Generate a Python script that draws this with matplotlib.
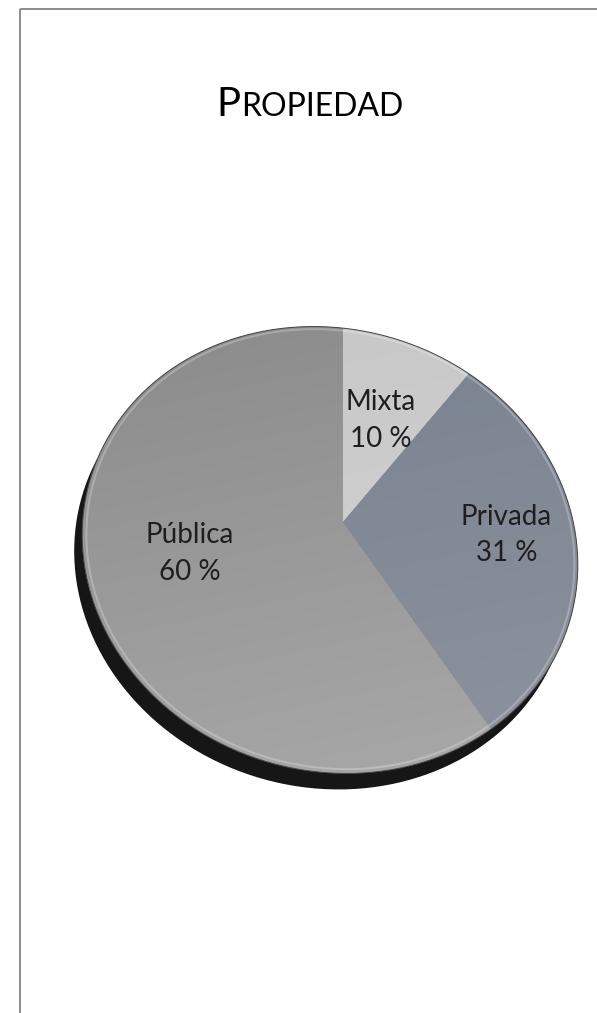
import numpy as np
import matplotlib
matplotlib.use("Agg")
import matplotlib.pyplot as plt
from matplotlib import transforms as mtransforms
from matplotlib.path import Path
from matplotlib.patches import Circle
from matplotlib.colors import to_rgb

# ownership split
categories = ["Mixta", "Privada", "Pública"]
shares = [10, 31, 60]

# flat fill + (top, bottom) shading per slice
face_colors = ["#cbcbcb", "#838a96", "#9c9c9c"]
shades = [("#c6c6c6", "#d6d6d6"), ("#778090", "#8e949e"), ("#8a8a8a", "#aaaaaa")]
label_r = [0.535, 0.69, 0.62]

W, H = 597, 1013


def disc_view(center, axes, angle, hub, up):
    """Homography taking the unit disc onto a tilted disc drawn on the page.

    center/axes/angle describe the rim ellipse in page pixels, hub is where
    the disc centre lands and up is a page point straight above it (12 o'clock).
    """
    cx, cy = center
    a, b = axes
    phi = np.radians(angle)
    rot = np.array([[np.cos(phi), -np.sin(phi)], [np.sin(phi), np.cos(phi)]])
    M = rot @ np.diag([1 / a**2, 1 / b**2]) @ rot.T
    t = np.array([cx, cy])
    C = np.zeros((3, 3))
    C[:2, :2] = M
    C[:2, 2] = C[2, :2] = -M @ t
    C[2, 2] = t @ M @ t - 1

    h = np.array([*hub, 1.0])
    line = -C @ h                      # polar of the hub = horizon of the disc
    K1 = np.eye(3)
    K1[2] = line / (line @ h)
    K1i = np.linalg.inv(K1)
    C1 = K1i.T @ C @ K1i
    h1 = K1 @ h
    h1 = h1[:2] / h1[2]
    M1 = C1[:2, :2]
    s = h1 @ M1 @ h1 - C1[2, 2]
    if s < 0:
        M1, s = -M1, -s
    w, v = np.linalg.eigh(M1 / s)
    A = v @ np.diag(np.sqrt(w)) @ v.T

    def to_unit(p):
        q = K1 @ np.array([*p, 1.0])
        return A @ (q[:2] / q[2] - h1)

    qu = to_unit(up)
    ang = np.arctan2(qu[0], qu[1])
    R = np.array([[np.cos(ang), -np.sin(ang)], [np.sin(ang), np.cos(ang)]])
    L = R @ A
    # keep clockwise on the page clockwise on the disc
    if (R @ to_unit((hub[0] + 50, hub[1])))[0] < 0:
        L = np.diag([-1, 1]) @ L
    K2 = np.eye(3)
    K2[:2, :2] = L
    K2[:2, 2] = -L @ h1
    return np.linalg.inv(K2 @ K1)


class Tilt(mtransforms.Transform):
    """Projective map from the unit pie disc to page pixels."""
    input_dims = output_dims = 2

    def __init__(self, m):
        super().__init__()
        self.m = m

    def transform_non_affine(self, values):
        values = np.asarray(values, float).reshape(-1, 2)
        p = np.column_stack([values, np.ones(len(values))]) @ self.m.T
        return p[:, :2] / p[:, 2:]

    def transform_path_non_affine(self, path):
        t = np.linspace(0, 1, 24)
        pts = [seg(t) for seg, _ in path.iter_bezier()]
        return Path(self.transform_non_affine(np.concatenate(pts)))


fig = plt.figure(figsize=(W / 100, H / 100), dpi=100)
ax = fig.add_axes([0, 0, 1, 1])

wedges, _ = ax.pie(shares, startangle=90, counterclock=False, colors=face_colors,
                   labeldistance=None, wedgeprops=dict(edgecolor="none", linewidth=0))

tilt = Tilt(disc_view(center=(330, 550), axes=(250, 221), angle=16.4,
                      hub=(343, 522), up=(343, 329)))
view = tilt + ax.transData

# disc thickness, seen below the top face
side = Circle((0, 0), 1, fc="#161616", ec="none",
              transform=tilt + mtransforms.Affine2D().translate(-8, 16) + ax.transData,
              zorder=0.5)
ax.add_patch(side)

x0, x1, ytop, ybot = 60, 600, 315, 790
gy, gx = np.mgrid[0:1:200j, 0:1:200j]
tt = 0.8 * gy + 0.2 * gx
for w, (c_top, c_bot) in zip(wedges, shades):
    w.set_transform(view)
    w.set_zorder(1)
    a, b = np.array(to_rgb(c_top)), np.array(to_rgb(c_bot))
    img = a[None, None, :] * (1 - tt[..., None]) + b[None, None, :] * tt[..., None]
    im = ax.imshow(img, extent=(x0, x1, ybot, ytop), origin="upper",
                   aspect="auto", zorder=1.5, interpolation="bilinear")
    im.set_clip_path(w)

# rim: thin dark edge with a soft highlight just inside
ax.add_patch(Circle((0, 0), 1, fill=False, ec="#444444", lw=0.7, transform=view, zorder=2))
ax.add_patch(Circle((0, 0), 0.985, fill=False, ec="white", lw=1.4, alpha=0.25,
                    transform=view, zorder=2))

# slice labels
bounds = np.cumsum(shares) / np.sum(shares) * 2 * np.pi
mids = (np.concatenate([[0], bounds[:-1]]) + bounds) / 2
for cat, val, m, r in zip(categories, shares, mids, label_r):
    ax.text(r * np.sin(m), r * np.cos(m), f"{cat}\n{val} %", transform=view,
            ha="center", va="center", fontsize=20, family="Lato", color="#1e1e1e",
            linespacing=1.5, zorder=3)

# title in small caps
ax.text(240, 116, "P", fontsize=29, family="Lato", ha="right", va="baseline", color="black")
ax.text(241, 116, "ROPIEDAD", fontsize=23, family="Lato", ha="left", va="baseline",
        color="black")

# page frame
ax.plot([19.5, 19.5], [8.5, H], color="#8c8c8c", lw=1.4, solid_capstyle="butt")
ax.plot([19.5, W], [8.5, 8.5], color="#8c8c8c", lw=1.4, solid_capstyle="butt")

ax.set_xlim(0, W)
ax.set_ylim(H, 0)
ax.set_aspect("auto")
ax.axis("off")

fig.savefig("out.png", dpi=100, facecolor="white")
